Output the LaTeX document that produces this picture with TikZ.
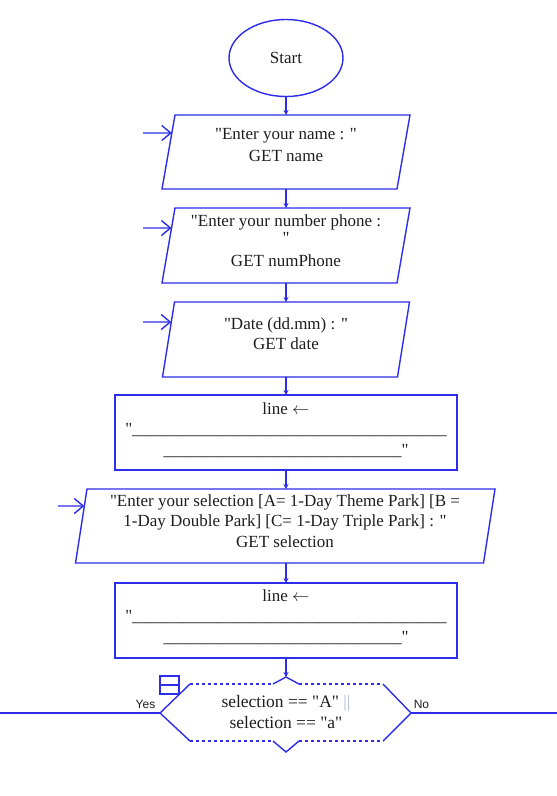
\documentclass[tikz,border=0pt]{standalone}
\usepackage{fontspec}
\setmainfont{Liberation Serif}[Ligatures=TeXOff]
\newfontfamily\yesnofont{Liberation Sans}
\usetikzlibrary{shapes.geometric,arrows.meta,calc}
\definecolor{flowblue}{RGB}{45,45,235}
\definecolor{txtgray}{RGB}{30,30,30}
\definecolor{barsgray}{RGB}{175,185,205}
\begin{document}
\begin{tikzpicture}[x=1pt,y=-1pt,
  shapeline/.style={draw=flowblue, line width=1.4pt},
  txt/.style={font=\fontsize{17}{20.5}\selectfont, text=txtgray, align=center, inner sep=0pt},
  flow/.style={draw=flowblue, line width=1.4pt, -{Stealth[length=5pt,width=5pt]}},
  inarrow/.style={draw=flowblue, line width=1.4pt, -{Straight Barb[length=9pt,width=15pt]}},
  plainline/.style={draw=flowblue, line width=1.4pt},
  dotline/.style={draw=flowblue, line width=1.2pt, dash pattern=on 3pt off 3pt},
  holder/.style={inner sep=0pt, outer sep=0pt}
]
\fill[white] (0,0) rectangle (557,796);
\useasboundingbox (0,0) rectangle (557,796);

% Start
\node[shapeline, ellipse, minimum width=114pt, minimum height=77pt, inner sep=0pt, txt] (start) at (286,58) {Start};

% Parallelogram 1
\node[holder, minimum width=235pt, minimum height=74pt] (p1) at (286,152) {};
\draw[shapeline] ([xshift=-6.5pt]p1.south west) -- ([xshift=-6.5pt]p1.south east) -- ([xshift=6.5pt]p1.north east) -- ([xshift=6.5pt]p1.north west) -- cycle;
\node[txt] (t1) at (286,145.5) {"Enter your name : "\\[1.5pt]GET name};

% Parallelogram 2
\node[holder, minimum width=235pt, minimum height=75pt] (p2) at (286,245.5) {};
\draw[shapeline] ([xshift=-6.5pt]p2.south west) -- ([xshift=-6.5pt]p2.south east) -- ([xshift=6.5pt]p2.north east) -- ([xshift=6.5pt]p2.north west) -- cycle;
\node[txt] (t2) at (286,241) {"Enter your number phone :\\[-4pt] "\\[3pt]GET numPhone};

% Parallelogram 3
\node[holder, minimum width=235pt, minimum height=75pt] (p3) at (286,339.5) {};
\draw[shapeline] ([xshift=-6pt]p3.south west) -- ([xshift=-6pt]p3.south east) -- ([xshift=6pt]p3.north east) -- ([xshift=6pt]p3.north west) -- cycle;
\node[txt] (t3) at (286,333.5) {"Date (dd.mm) : "\\GET date};

% Rectangle 1
\node[shapeline, holder, minimum width=342pt, minimum height=75pt] (r1) at (286,432.5) {};
\node[txt] (rt1) at (286,430) {line $\leftarrow$\\"\_\_\_\_\_\_\_\_\_\_\_\_\_\_\_\_\_\_\_\_\_\_\_\_\_\_\_\_\_\_\_\_\_\_\_\_\_\\\_\_\_\_\_\_\_\_\_\_\_\_\_\_\_\_\_\_\_\_\_\_\_\_\_\_\_\_"};

% Parallelogram 4
\node[holder, minimum width=408pt, minimum height=74pt] (p4) at (285.25,526) {};
\draw[shapeline] ([xshift=-5.75pt]p4.south west) -- ([xshift=-5.75pt]p4.south east) -- ([xshift=5.75pt]p4.north east) -- ([xshift=5.75pt]p4.north west) -- cycle;
\node[txt] (t4) at (285,521) {"Enter your selection [A= 1-Day Theme Park] [B =\\1-Day Double Park] [C= 1-Day Triple Park] : "\\GET selection};

% Rectangle 2
\node[shapeline, holder, minimum width=342pt, minimum height=75pt] (r2) at (286,620.5) {};
\node[txt] (rt2) at (286,617) {line $\leftarrow$\\"\_\_\_\_\_\_\_\_\_\_\_\_\_\_\_\_\_\_\_\_\_\_\_\_\_\_\_\_\_\_\_\_\_\_\_\_\_\\\_\_\_\_\_\_\_\_\_\_\_\_\_\_\_\_\_\_\_\_\_\_\_\_\_\_\_\_"};

% Decision
\coordinate (dl) at (160,713);
\coordinate (dr) at (411,713);
\coordinate (dtl) at (190,684);
\coordinate (dtr) at (383,684);
\coordinate (dbl) at (190,741);
\coordinate (dbr) at (383,741);
\coordinate (dtop) at (286,677);
\coordinate (dbot) at (286,752);
\coordinate (ct1) at (273,684);
\coordinate (ct2) at (299,684);
\coordinate (cb1) at (273,741);
\coordinate (cb2) at (299,741);
\draw[shapeline] (dtl) -- (dl) -- (dbl);
\draw[shapeline] (dtr) -- (dr) -- (dbr);
\draw[dotline] (dtl) -- (ct1);
\draw[dotline] (ct2) -- (dtr);
\draw[dotline] (dbl) -- (cb1);
\draw[dotline] (cb2) -- (dbr);
\draw[shapeline] (ct1) -- (dtop) -- (ct2);
\draw[shapeline] (cb1) -- (dbot) -- (cb2);
\node[txt, font=\fontsize{17.5}{20.5}\selectfont] (dtext) at (286,712) {selection == "A" \textcolor{barsgray}{||}\\selection == "a"};

% icon
\node[shapeline, line width=1.3pt, holder, minimum width=19pt, minimum height=18pt] (icon) at (169.5,685) {};
\draw[shapeline, line width=1.3pt] (icon.west) -- (icon.east);

% Yes / No
\node[font=\yesnofont\fontsize{12}{14}\selectfont, text=txtgray, inner sep=0pt] (yes) at (145.5,704) {Yes};
\node[font=\yesnofont\fontsize{12}{14}\selectfont, text=txtgray, inner sep=0pt] (no) at (421.5,704) {No};

% side lines
\coordinate (farL) at (0,713);
\coordinate (farR) at (557,713);
\draw[plainline] (farL) -- (dl);
\draw[plainline] (dr) -- (farR);

% flow connectors
\draw[flow] (start.south) -- (p1.north);
\draw[flow] (p1.south) -- (p2.north);
\draw[flow] (p2.south) -- (p3.north);
\draw[flow] (p3.south) -- (r1.north);
\draw[flow] (r1.south) -- ([xshift=0.75pt]p4.north);
\draw[flow] ([xshift=0.75pt]p4.south) -- (r2.north);
\draw[flow] (r2.south) -- (dtop);

% input arrows
\coordinate (i1) at (143,133);
\coordinate (i2) at (143,228);
\coordinate (i3) at (143,322);
\coordinate (i4) at (58,506);
\draw[inarrow] (i1) -- ($([xshift=6.5pt]p1.north west)!0.243!([xshift=-6.5pt]p1.south west)$);
\draw[inarrow] (i2) -- ($([xshift=6.5pt]p2.north west)!0.267!([xshift=-6.5pt]p2.south west)$);
\draw[inarrow] (i3) -- ($([xshift=6pt]p3.north west)!0.267!([xshift=-6pt]p3.south west)$);
\draw[inarrow] (i4) -- ($([xshift=5.75pt]p4.north west)!0.23!([xshift=-5.75pt]p4.south west)$);
\end{tikzpicture}
\end{document}
